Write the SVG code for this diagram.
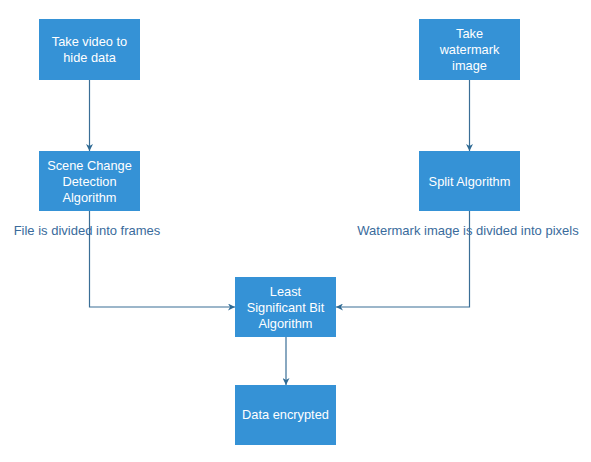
<svg xmlns="http://www.w3.org/2000/svg" width="591" height="462" viewBox="0 0 591 462">
<style>
.box{fill:#3592d6}
.t{font-family:"Liberation Sans",Arial,sans-serif;font-size:12.8px;fill:#ffffff;text-anchor:middle}
.lbl{font-family:"Liberation Sans",Arial,sans-serif;font-size:13px;fill:#3a6b9c;text-anchor:middle}
.c{fill:none;stroke:#3a6e96;stroke-width:1.2}
</style>
<defs>
<marker id="ah" viewBox="0 0 10 10" refX="10" refY="5" markerWidth="7" markerHeight="7" markerUnits="userSpaceOnUse" orient="auto">
<path d="M0,0 L10,5 L0,10 L3,5 Z" fill="#2e6a94"/>
</marker>
</defs>
<rect width="591" height="462" fill="#ffffff"/>
<g id="connectors">
<path class="c" d="M89.5,80 V151" marker-end="url(#ah)"/>
<path class="c" d="M469.5,80 V151" marker-end="url(#ah)"/>
<path class="c" d="M89.5,211 V307 H235" marker-end="url(#ah)"/>
<path class="c" d="M469.5,211 V307 H336" marker-end="url(#ah)"/>
<path class="c" d="M286,337 V385" marker-end="url(#ah)"/>
</g>
<g id="n1"><rect class="box" x="39" y="19" width="101" height="61"/>
<text class="t" x="89.5" y="46">Take video to</text><text class="t" x="89.5" y="62">hide data</text></g>
<g id="n2"><rect class="box" x="39" y="151" width="101" height="60"/>
<text class="t" x="89.5" y="170">Scene Change</text><text class="t" x="89.5" y="186">Detection</text><text class="t" x="89.5" y="202">Algorithm</text></g>
<g id="n3"><rect class="box" x="419" y="19" width="101" height="61"/>
<text class="t" x="469.5" y="38">Take</text><text class="t" x="469.5" y="54">watermark</text><text class="t" x="469.5" y="70">image</text></g>
<g id="n4"><rect class="box" x="419" y="151" width="101" height="60"/>
<text class="t" x="469.5" y="186">Split Algorithm</text></g>
<g id="n5"><rect class="box" x="235" y="277" width="101" height="60"/>
<text class="t" x="285.5" y="296">Least</text><text class="t" x="285.5" y="312">Significant Bit</text><text class="t" x="285.5" y="328">Algorithm</text></g>
<g id="n6"><rect class="box" x="235" y="385" width="101" height="60"/>
<text class="t" x="285.5" y="419">Data encrypted</text></g>
<g id="labels">
<text class="lbl" x="87" y="235">File is divided into frames</text>
<text class="lbl" x="468" y="235">Watermark image is divided into pixels</text>
</g>
</svg>
